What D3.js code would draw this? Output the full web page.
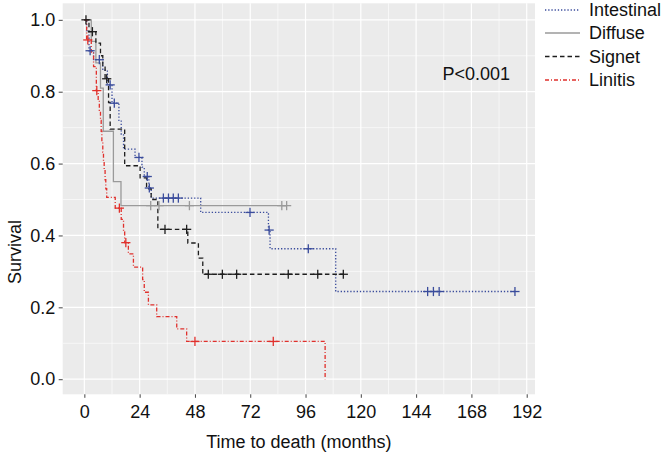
<!DOCTYPE html>
<html>
<head>
<meta charset="utf-8">
<script src="https://cdn.jsdelivr.net/npm/d3@7"></script>
<style>
  html, body { margin: 0; padding: 0; background: #ffffff; }
  svg { display: block; }
  text { font-family: "Liberation Sans", Arial, Helvetica, sans-serif; }
</style>
</head>
<body>
<svg id="chart" width="666" height="453"></svg>
<script>
// ---------------- DATA ----------------
const seriesNames = ["Intestinal", "Diffuse", "Signet", "Linitis"];

const intestinalTimes = [0, 1, 2, 4, 8, 10, 12, 15, 16, 17, 22, 25, 26, 28, 29, 50.5, 79.9, 80.6, 109.1];
const intestinalSurv  = [1, 0.97, 0.914, 0.889, 0.86, 0.819, 0.768, 0.72, 0.68, 0.64, 0.617, 0.59, 0.564, 0.532, 0.504, 0.464, 0.415, 0.363, 0.244];
const intestinalEnd = 187;
const intestinalCensor = [2.5, 6.5, 11.2, 13, 23.7, 27.3, 28.2, 34.3, 36.5, 38.6, 40.8, 71.9, 80.2, 97.2, 149, 151.5, 154, 186.9];

const diffuseTimes = [0, 3, 5, 7, 8.2, 12.6, 15.9];
const diffuseSurv  = [1, 0.94, 0.88, 0.81, 0.69, 0.55, 0.483];
const diffuseEnd = 87.8;
const diffuseCensor = [28.8, 32.4, 45.6, 85.7, 87.8];

const signetTimes = [0, 2, 5, 7, 8, 9, 10.5, 11.2, 17.5, 24.2, 27, 29, 31.9, 44.9, 49.5, 51.4];
const signetSurv  = [1, 0.967, 0.935, 0.90, 0.87, 0.836, 0.77, 0.696, 0.594, 0.56, 0.53, 0.5, 0.417, 0.379, 0.337, 0.292];
const signetEnd = 112.4;
const signetCensor = [0.7, 3.5, 9.7, 35, 44.4, 53.8, 59.9, 66.1, 88.5, 101.3, 112.4];

const linitisTimes = [0, 1, 3, 4, 5.2, 6, 6.5, 7, 7.3, 7.6, 8, 8.3, 8.6, 9, 9.3, 9.7, 13.4, 16, 17, 17.5, 19.1, 21.3, 25.3, 26, 27.8, 31.4, 40.1, 44.4, 104.5];
const linitisSurv  = [1, 0.944, 0.91, 0.87, 0.803, 0.775, 0.748, 0.72, 0.69, 0.66, 0.632, 0.605, 0.58, 0.555, 0.53, 0.506, 0.476, 0.445, 0.41, 0.38, 0.349, 0.312, 0.277, 0.242, 0.207, 0.174, 0.14, 0.105, 0];
const linitisEnd = 104.5;
const linitisCensor = [1.5, 5.4, 15.2, 18, 48, 82];

const xTickValues = [0, 24, 48, 72, 96, 120, 144, 168, 192];
const xMinorValues = [12, 36, 60, 84, 108, 132, 156, 180];
const yTickValues = [0, 0.2, 0.4, 0.6, 0.8, 1.0];
const yMinorValues = [0.1, 0.3, 0.5, 0.7, 0.9];
const pValueText = "P<0.001";
const xTitle = "Time to death (months)";
const yTitle = "Survival";

// ---------------- LAYOUT ----------------
const svg = d3.select("#chart");
const panel = { left: 62.7, right: 535, top: 3.3, bottom: 394.3 };

const x = d3.scaleLinear().domain([-9.4, 195.6]).range([panel.left, panel.right]);
const y = d3.scaleLinear().domain([-0.042, 1.046]).range([panel.bottom, panel.top]);

const series = [
  { name: seriesNames[0], times: intestinalTimes, surv: intestinalSurv, end: intestinalEnd, censor: intestinalCensor,
    color: "#3a4c9c", dash: "1.3,1.9", width: 1.3 },
  { name: seriesNames[1], times: diffuseTimes, surv: diffuseSurv, end: diffuseEnd, censor: diffuseCensor,
    color: "#9a9a9a", dash: null, width: 1.3 },
  { name: seriesNames[2], times: signetTimes, surv: signetSurv, end: signetEnd, censor: signetCensor,
    color: "#1e1e1e", dash: "4.5,3", width: 1.3 },
  { name: seriesNames[3], times: linitisTimes, surv: linitisSurv, end: linitisEnd, censor: linitisCensor,
    color: "#e0302c", dash: "4,2,1,2", width: 1.3 }
];

// panel background
svg.append("rect")
  .attr("x", panel.left).attr("y", panel.top)
  .attr("width", panel.right - panel.left).attr("height", panel.bottom - panel.top)
  .attr("fill", "#ebebeb");

const grid = svg.append("g");
// minor grid
grid.selectAll(".xminor").data(xMinorValues).enter().append("line")
  .attr("x1", d => x(d)).attr("x2", d => x(d)).attr("y1", panel.top).attr("y2", panel.bottom)
  .attr("stroke", "#ffffff").attr("stroke-width", 0.6);
grid.selectAll(".yminor").data(yMinorValues).enter().append("line")
  .attr("y1", d => y(d)).attr("y2", d => y(d)).attr("x1", panel.left).attr("x2", panel.right)
  .attr("stroke", "#ffffff").attr("stroke-width", 0.6);
// major grid
grid.selectAll(".xmajor").data(xTickValues).enter().append("line")
  .attr("x1", d => x(d)).attr("x2", d => x(d)).attr("y1", panel.top).attr("y2", panel.bottom)
  .attr("stroke", "#ffffff").attr("stroke-width", 1.2);
grid.selectAll(".ymajor").data(yTickValues).enter().append("line")
  .attr("y1", d => y(d)).attr("y2", d => y(d)).attr("x1", panel.left).attr("x2", panel.right)
  .attr("stroke", "#ffffff").attr("stroke-width", 1.2);

// axes
const xAxis = svg.append("g")
  .attr("transform", `translate(0,${panel.bottom})`)
  .call(d3.axisBottom(x).tickValues(xTickValues).tickSize(3.5).tickPadding(7.2).tickFormat(d3.format("d")));
xAxis.select(".domain").remove();
xAxis.selectAll(".tick line").attr("stroke", "#444").attr("stroke-width", 1);
xAxis.selectAll(".tick text").attr("fill", "#111").attr("font-size", 18)
  .style("font-family", "'Liberation Sans', Arial, sans-serif");

const yAxis = svg.append("g")
  .attr("transform", `translate(${panel.left},0)`)
  .call(d3.axisLeft(y).tickValues(yTickValues).tickSize(4).tickPadding(3.5).tickFormat(d3.format(".1f")));
yAxis.select(".domain").remove();
yAxis.selectAll(".tick line").attr("stroke", "#444").attr("stroke-width", 1);
yAxis.selectAll(".tick text").attr("fill", "#111").attr("font-size", 18)
  .style("font-family", "'Liberation Sans', Arial, sans-serif");

// axis titles
svg.append("text")
  .attr("x", (panel.left + panel.right) / 2).attr("y", 448)
  .attr("text-anchor", "middle").attr("font-size", 18).attr("fill", "#111")
  .text(xTitle);
svg.append("text")
  .attr("transform", `translate(20.5,${252}) rotate(-90)`)
  .attr("text-anchor", "middle").attr("font-size", 18).attr("fill", "#111")
  .text(yTitle);

// curves
const stepLine = d3.line().x(d => x(d[0])).y(d => y(d[1])).curve(d3.curveStepAfter);
function survAt(s, t) {
  let v = s.surv[0];
  for (let i = 0; i < s.times.length; i++) { if (s.times[i] <= t) v = s.surv[i]; }
  return v;
}
const curves = svg.append("g");
series.forEach(s => {
  const pts = s.times.map((t, i) => [t, s.surv[i]]);
  if (s.end > s.times[s.times.length - 1]) pts.push([s.end, s.surv[s.surv.length - 1]]);
  curves.append("path")
    .attr("d", stepLine(pts))
    .attr("fill", "none")
    .attr("stroke", s.color)
    .attr("stroke-width", s.width)
    .attr("stroke-dasharray", s.dash);
});
// censor marks
const hs = 4.6;
series.forEach(s => {
  const g = curves.append("g");
  s.censor.forEach(t => {
    const cx = x(t), cy = y(survAt(s, t));
    g.append("line").attr("x1", cx - hs).attr("x2", cx + hs).attr("y1", cy).attr("y2", cy)
      .attr("stroke", s.color).attr("stroke-width", 1.3);
    g.append("line").attr("x1", cx).attr("x2", cx).attr("y1", cy - hs).attr("y2", cy + hs)
      .attr("stroke", s.color).attr("stroke-width", 1.3);
  });
});

// p-value
svg.append("text")
  .attr("x", 510).attr("y", 79.7).attr("text-anchor", "end")
  .attr("font-size", 18).attr("fill", "#111").text(pValueText);

// legend
const legendY = [10, 33, 56.5, 80];
const legend = svg.append("g");
series.forEach((s, i) => {
  legend.append("line")
    .attr("x1", 545).attr("x2", 580).attr("y1", legendY[i]).attr("y2", legendY[i])
    .attr("stroke", s.color).attr("stroke-width", s.width).attr("stroke-dasharray", s.dash);
  legend.append("text")
    .attr("x", 589).attr("y", legendY[i] + 6.4)
    .attr("font-size", 18).attr("fill", "#111").text(s.name);
});
</script>
</body>
</html>
